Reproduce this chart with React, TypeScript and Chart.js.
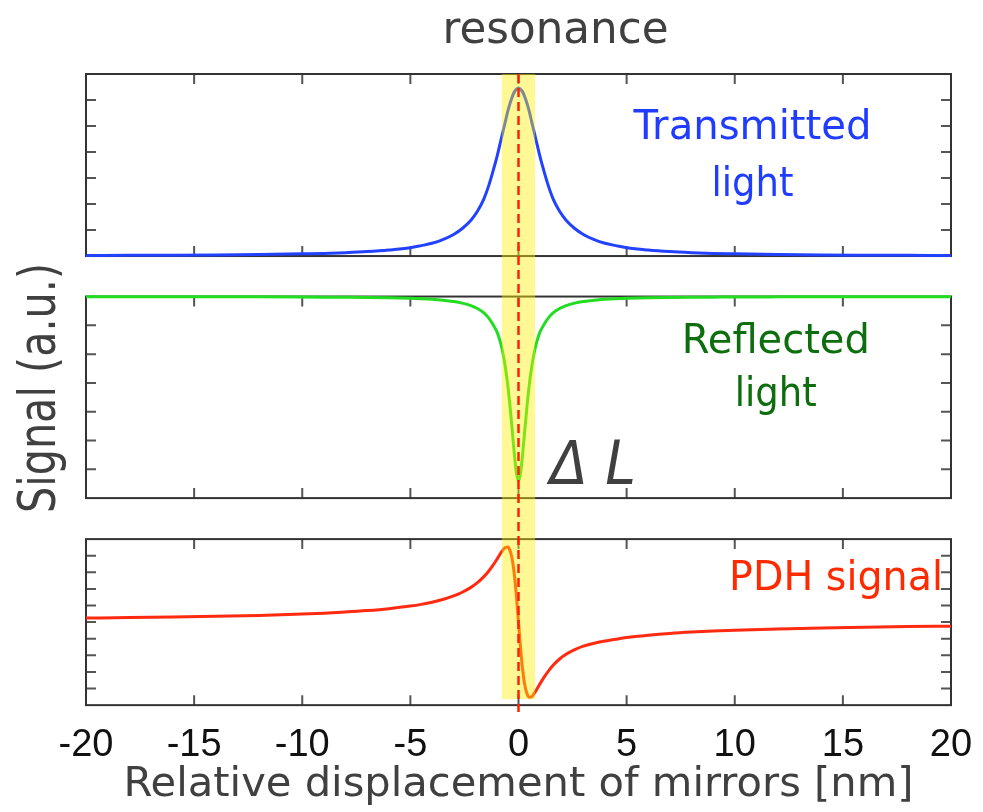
import React, { useEffect, useRef } from 'react';
import { Chart, registerables } from 'chart.js';

Chart.register(...registerables);

// ---------- data ----------
const X_NM = [
  -20, -18, -16, -14, -12, -10, -9, -8, -7, -6, -5, -4.5, -4, -3.5, -3, -2.6, -2.2, -1.9, -1.6, -1.4, -1.2, -1,
  -0.9, -0.8, -0.7, -0.6, -0.5, -0.4, -0.3, -0.2, -0.1, 0, 0.1, 0.2, 0.3, 0.4, 0.5, 0.6, 0.7, 0.8, 0.9,
  1, 1.2, 1.4, 1.6, 1.9, 2.2, 2.6, 3, 3.5, 4, 4.5, 5, 6, 7, 8, 9, 10, 12, 14, 16, 18, 20,
];

const TRANSMITTED = [
  0.021, 0.026, 0.033, 0.043, 0.059, 0.084, 0.1, 0.13, 0.17, 0.23, 0.32, 0.4, 0.49, 0.63, 0.83, 1.06, 1.38, 1.72,
  2.2, 2.65, 3.2, 3.8, 4.15, 4.5, 4.85, 5.2, 5.55, 5.85, 6.1, 6.3, 6.41, 6.46, 6.41, 6.3, 6.1, 5.85, 5.55, 5.2,
  4.85, 4.5, 4.15, 3.8, 3.2, 2.65, 2.2, 1.72, 1.38, 1.06, 0.83, 0.63, 0.49, 0.4, 0.32, 0.23, 0.17, 0.13, 0.1,
  0.084, 0.059, 0.043, 0.033, 0.026, 0.021,
];

const REFLECTED = [
  6.996, 6.995, 6.994, 6.992, 6.989, 6.984, 6.98, 6.975, 6.968, 6.956, 6.937, 6.922, 6.902, 6.872, 6.827, 6.772,
  6.686, 6.585, 6.431, 6.276, 6.053, 5.78, 5.57, 5.3, 4.95, 4.5, 3.95, 3.25, 2.45, 1.6, 0.9, 0.6, 0.9, 1.6, 2.45,
  3.25, 3.95, 4.5, 4.95, 5.3, 5.57, 5.78, 6.053, 6.276, 6.431, 6.585, 6.686, 6.772, 6.827, 6.872, 6.902, 6.922,
  6.937, 6.956, 6.968, 6.975, 6.98, 6.984, 6.989, 6.992, 6.994, 6.995, 6.996,
];

const PDH = [
  5.244, 5.271, 5.305, 5.348, 5.406, 5.487, 5.54, 5.607, 5.693, 5.807, 5.965, 6.069, 6.198, 6.362, 6.576, 6.8,
  7.093, 7.377, 7.74, 8.036, 8.385, 8.783, 8.993, 9.198, 9.379, 9.505, 9.519, 9.338, 8.853, 7.958, 6.627, 5,
  3.373, 2.042, 1.147, 0.662, 0.481, 0.495, 0.66, 0.86, 1.08, 1.3, 1.72, 2.08, 2.4, 2.78, 3.06, 3.34, 3.55, 3.73,
  3.86, 3.97, 4.07, 4.21, 4.32, 4.4, 4.46, 4.51, 4.59, 4.65, 4.695, 4.73, 4.756,
];

const X_TICKS = [-20, -15, -10, -5, 0, 5, 10, 15, 20];
const RESONANCE_BAND = [-0.77, 0.77];
const RESONANCE_LINE = 0;

// ---------- layout / style ----------
const W = 983;
const H = 812;
const PAD = { left: 86, right: 32, top: 74, bottom: 26 };
const AREA_H = 631;

const PANELS = [
  { axis: 'yT', min: 0, max: 7, step: 1, f0: 0, f1: 182 / AREA_H },
  { axis: 'yR', min: 0, max: 7, step: 1, f0: 222.5 / AREA_H, f1: 424 / AREA_H },
  { axis: 'yP', min: 0, max: 10, step: 1, f0: 465 / AREA_H, f1: 1 },
];

const BLUE = '#2242ff';
const GREEN = '#22dd22';
const RED = '#ff2a10';
const FRAME = '#333333';
const TICK = '#555555';
const GRAY_TEXT = '#404040';
const SANS = '"DejaVu Sans", sans-serif';

type Label = { text: string; x: number; y: number; size: number; width: number; color: string; italic?: boolean; rotate?: boolean };
const LABELS: Label[] = [
  { text: 'resonance', x: 555.5, y: 42.7, size: 44, width: 226, color: GRAY_TEXT },
  { text: 'Transmitted', x: 752.5, y: 139.3, size: 40, width: 238, color: '#1f3cff' },
  { text: 'light', x: 752.5, y: 196, size: 40, width: 82, color: '#1f3cff' },
  { text: 'Reflected', x: 775.8, y: 353.3, size: 41, width: 188, color: '#0d6e0d' },
  { text: 'light', x: 775.8, y: 406, size: 41, width: 82, color: '#0d6e0d' },
  { text: 'PDH signal', x: 836, y: 590, size: 40, width: 214, color: '#ff2a00' },
  { text: 'Δ L', x: 593, y: 484, size: 60, width: 86, color: GRAY_TEXT, italic: true },
  { text: 'Signal (a.u.)', x: 55, y: 388, size: 52, width: 250, color: GRAY_TEXT, rotate: true },
  { text: 'Relative displacement of mirrors [nm]', x: 518.5, y: 796, size: 40, width: 790, color: GRAY_TEXT },
];

function axisRange(p: { min: number; max: number; f0: number; f1: number }) {
  const range = p.max - p.min;
  const span = p.f1 - p.f0;
  return { min: p.max - ((1 - p.f0) / span) * range, max: p.max + (p.f0 / span) * range };
}

function drawLabel(ctx: CanvasRenderingContext2D, l: Label) {
  ctx.save();
  ctx.font = `${l.italic ? 'italic ' : ''}${l.size}px ${SANS}`;
  ctx.fillStyle = l.color;
  ctx.textAlign = 'center';
  ctx.textBaseline = 'alphabetic';
  const w = ctx.measureText(l.text).width;
  ctx.translate(l.x, l.y);
  if (l.rotate) ctx.rotate(-Math.PI / 2);
  ctx.scale(l.width / w, 1);
  ctx.fillText(l.text, 0, 0);
  ctx.restore();
}

const panelPlugin = {
  id: 'panelFrames',
  beforeDatasetsDraw(chart: any) {
    const ctx: CanvasRenderingContext2D = chart.ctx;
    const xs = chart.scales.x;
    for (const p of PANELS) {
      const ys = chart.scales[p.axis];
      const top = ys.getPixelForValue(p.max);
      const bottom = ys.getPixelForValue(p.min);
      ctx.save();
      ctx.strokeStyle = TICK;
      ctx.lineWidth = 2;
      ctx.beginPath();
      for (const v of X_TICKS) {
        const px = xs.getPixelForValue(v);
        ctx.moveTo(px, top);
        ctx.lineTo(px, top + 10);
        ctx.moveTo(px, bottom);
        ctx.lineTo(px, bottom - 10);
      }
      for (let v = p.min + p.step; v < p.max - 1e-9; v += p.step) {
        const py = ys.getPixelForValue(v);
        ctx.moveTo(xs.left, py);
        ctx.lineTo(xs.left + 10, py);
        ctx.moveTo(xs.right, py);
        ctx.lineTo(xs.right - 10, py);
      }
      ctx.stroke();
      ctx.strokeStyle = FRAME;
      ctx.lineWidth = 2;
      ctx.strokeRect(xs.left, top, xs.right - xs.left, bottom - top);
      ctx.restore();
    }
  },
  afterDatasetsDraw(chart: any) {
    const ctx: CanvasRenderingContext2D = chart.ctx;
    const xs = chart.scales.x;
    const top = chart.scales.yT.getPixelForValue(PANELS[0].max);
    const bandBottom = chart.scales.yP.getPixelForValue(0.36);
    const lineBottom = chart.scales.yP.getPixelForValue(-0.42);
    const x0 = xs.getPixelForValue(RESONANCE_BAND[0]);
    const x1 = xs.getPixelForValue(RESONANCE_BAND[1]);
    ctx.save();
    ctx.fillStyle = 'rgba(255, 238, 0, 0.42)';
    ctx.fillRect(x0, top, x1 - x0, bandBottom - top);
    const xl = xs.getPixelForValue(RESONANCE_LINE);
    ctx.strokeStyle = '#ff2200';
    ctx.lineWidth = 2.5;
    ctx.setLineDash([9, 5]);
    ctx.beginPath();
    ctx.moveTo(xl, top);
    ctx.lineTo(xl, lineBottom);
    ctx.stroke();
    ctx.restore();
  },
  afterDraw(chart: any) {
    const ctx: CanvasRenderingContext2D = chart.ctx;
    for (const l of LABELS) drawLabel(ctx, l);
  },
};

function series(values: number[]) {
  return X_NM.map((x, i) => ({ x, y: values[i] }));
}

export default function App() {
  const ref = useRef<HTMLCanvasElement>(null);
  useEffect(() => {
    const canvas = ref.current;
    if (!canvas) return;
    const yScales: any = {};
    for (const p of PANELS) {
      const r = axisRange(p);
      yScales[p.axis] = { type: 'linear', display: false, min: r.min, max: r.max, bounds: 'data' };
    }
    const lineCommon = { pointRadius: 0, borderWidth: 3, fill: false, cubicInterpolationMode: 'monotone' as const };
    const chart = new Chart(canvas, {
      type: 'line',
      data: {
        datasets: [
          { label: 'Transmitted light', data: series(TRANSMITTED), borderColor: BLUE, yAxisID: 'yT', ...lineCommon },
          { label: 'Reflected light', data: series(REFLECTED), borderColor: GREEN, yAxisID: 'yR', ...lineCommon },
          { label: 'PDH signal', data: series(PDH), borderColor: RED, yAxisID: 'yP', ...lineCommon },
        ],
      },
      options: {
        animation: false,
        responsive: false,
        devicePixelRatio: 1,
        layout: { padding: PAD },
        plugins: { legend: { display: false }, tooltip: { enabled: false }, title: { display: false } },
        scales: {
          x: {
            type: 'linear',
            min: -20,
            max: 20,
            grid: { display: false, drawTicks: false },
            border: { display: false },
            ticks: {
              stepSize: 5,
              autoSkip: false,
              maxRotation: 0,
              padding: 3,
              color: '#111111',
              font: { family: '"Liberation Sans", Arial, sans-serif', size: 38, lineHeight: 1.97 },
            },
          },
          ...yScales,
        },
      },
      plugins: [panelPlugin],
    });
    return () => chart.destroy();
  }, []);
  return (
    <div style={{ position: 'absolute', left: 0, top: 0, width: W, height: H, background: '#ffffff' }}>
      <canvas ref={ref} width={W} height={H} style={{ display: 'block', width: W, height: H }} />
    </div>
  );
}
